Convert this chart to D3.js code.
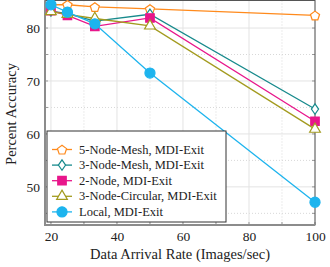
<!DOCTYPE html>
<html>
<head>
<meta charset="utf-8">
<script src="https://cdn.jsdelivr.net/npm/d3@7"></script>
<style>
  body { margin: 0; background: #fff; }
  text { font-family: "Liberation Serif", "DejaVu Serif", serif; fill: #222; }
</style>
</head>
<body>
<div id="chart"></div>
<script>
// data
var rates = [20, 25, 33.3, 50, 100];
var seriesNames = ["5-Node-Mesh, MDI-Exit", "3-Node-Mesh, MDI-Exit", "2-Node, MDI-Exit",
                   "3-Node-Circular, MDI-Exit", "Local, MDI-Exit"];
var mesh5 = [84.4, 84.4, 84.0, 83.6, 82.4];
var mesh3 = [83.2, 82.7, 81.3, 82.6, 64.7];
var node2 = [83.3, 82.4, 80.3, 81.9, 62.4];
var circ3 = [83.1, 82.6, 81.8, 80.4, 60.9];
var local = [84.4, 83.0, 80.8, 71.5, 47.1];
var xTicks = [20, 40, 60, 80, 100];
var yTicks = [50, 60, 70, 80];

var colors = ["#ff8a1c", "#178a8c", "#e8168b", "#a39b1f", "#1db4ee"];
var markers = ["pentagon", "diamond", "square", "triangle", "circle"];
var filled = [false, false, true, false, true];

var margin = {left:45, right:15, top:0.5, bottom:42},
    width = 330 - margin.left - margin.right,
    height = 267 - margin.top - margin.bottom;

var svg = d3.select("#chart").append("svg")
    .attr("width", 330)
    .attr("height", 267);

var g = svg.append("g")
    .attr("transform", "translate(" + margin.left + "," + margin.top + ")");

var x = d3.scaleLinear().domain([18.2, 100]).range([0, width]);
var y = d3.scaleLinear().domain([42.8, 85.2]).range([height, 0]);

// grid: dotted minor, light solid major
var minorX = [30, 50, 70, 90], minorY = [45, 55, 65, 75];
g.selectAll(".mx").data(minorX).enter().append("line")
    .attr("x1", x).attr("x2", x).attr("y1", 0).attr("y2", height)
    .style("stroke", "#d8d8d8").style("stroke-dasharray", "1,2");
g.selectAll(".my").data(minorY).enter().append("line")
    .attr("y1", y).attr("y2", y).attr("x1", 0).attr("x2", width)
    .style("stroke", "#d8d8d8").style("stroke-dasharray", "1,2");
g.selectAll(".gx").data(xTicks).enter().append("line")
    .attr("x1", x).attr("x2", x).attr("y1", 0).attr("y2", height)
    .style("stroke", "#e3e3e3");
g.selectAll(".gy").data(yTicks).enter().append("line")
    .attr("y1", y).attr("y2", y).attr("x1", 0).attr("x2", width)
    .style("stroke", "#e3e3e3");

// axes
var xAxis = g.append("g")
    .attr("transform", "translate(0," + height + ")")
    .call(d3.axisBottom(x).tickValues(xTicks).tickSize(0).tickPadding(6));
var yAxis = g.append("g")
    .call(d3.axisLeft(y).tickValues(yTicks).tickSize(0).tickPadding(5));
[xAxis, yAxis].forEach(function(a) {
    a.select(".domain").remove();
    a.selectAll("text").style("font-size", "13.5px")
        .style("font-family", "'Liberation Serif', serif").attr("fill", "#222");
});

// small tick marks inside the frame
g.selectAll(".tx").data(xTicks.concat(minorX)).enter().append("line")
    .attr("x1", x).attr("x2", x).attr("y1", height).attr("y2", height - 3)
    .style("stroke", "#999");
g.selectAll(".ty").data(yTicks.concat(minorY)).enter().append("line")
    .attr("y1", y).attr("y2", y).attr("x1", 0).attr("x2", 3)
    .style("stroke", "#999");
g.selectAll(".ty2").data(yTicks.concat(minorY)).enter().append("line")
    .attr("y1", y).attr("y2", y).attr("x1", width).attr("x2", width - 3)
    .style("stroke", "#999");

// frame
g.append("rect").attr("width", width).attr("height", height)
    .style("fill", "none").style("stroke", "#555").style("stroke-width", 1);
g.append("path")
    .attr("d", "M0,0V" + height + "H" + width)
    .style("fill", "none").style("stroke", "#8c8c8c").style("stroke-width", 2);

// marker symbols
function symbolFor(name) {
    if (name === "pentagon") {
        // regular pentagon, point up
        var r = 4.8, pts = [];
        for (var i = 0; i < 5; i++) {
            var a = -Math.PI / 2 + i * 2 * Math.PI / 5;
            pts.push([r * Math.cos(a), r * Math.sin(a) + 0.6]);
        }
        return "M" + pts.join("L") + "Z";
    }
    if (name === "diamond") {
        return "M0,-5.2L3.6,0L0,5.2L-3.6,0Z";
    }
    var t = { square: d3.symbolSquare, triangle: d3.symbolTriangle, circle: d3.symbolCircle }[name];
    var size = { square: 72, triangle: 50, circle: 80 }[name];
    return d3.symbol().type(t).size(size)();
}

var allSeries = [mesh5, mesh3, node2, circ3, local];

var line = d3.line()
    .x(function(d, i) { return x(rates[i]); })
    .y(function(d) { return y(d); });

allSeries.forEach(function(s, k) {
    g.append("path")
        .attr("d", line(s))
        .style("fill", "none")
        .style("stroke", colors[k])
        .style("stroke-width", 1.3);
    g.selectAll(".m" + k).data(s).enter().append("path")
        .attr("transform", function(d, i) { return "translate(" + x(rates[i]) + "," + y(d) + ")"; })
        .attr("d", symbolFor(markers[k]))
        .style("fill", filled[k] ? colors[k] : "#fff")
        .style("stroke", colors[k])
        .style("stroke-width", 1.2);
});

// legend
var leg = svg.append("g").attr("transform", "translate(47,131)");
leg.append("rect").attr("width", 179).attr("height", 91)
    .style("fill", "#fff").style("stroke", "#333").style("stroke-width", 1);
seriesNames.forEach(function(name, k) {
    var cy = 18.5 + k * 15.6;
    leg.append("line").attr("x1", 5).attr("x2", 25).attr("y1", cy).attr("y2", cy)
        .style("stroke", colors[k]).style("stroke-width", 1.3);
    leg.append("path").attr("transform", "translate(15," + cy + ")")
        .attr("d", symbolFor(markers[k]))
        .style("fill", filled[k] ? colors[k] : "#fff")
        .style("stroke", colors[k]).style("stroke-width", 1.2);
    leg.append("text").attr("x", 32).attr("y", cy + 4)
        .style("font-size", "12.5px").text(name);
});

// axis labels
svg.append("text")
    .attr("x", margin.left + width / 2).attr("y", 259)
    .attr("text-anchor", "middle").style("font-size", "14.5px")
    .text("Data Arrival Rate (Images/sec)");
svg.append("text")
    .attr("transform", "translate(16,114) rotate(-90)")
    .attr("text-anchor", "middle").style("font-size", "14.5px")
    .text("Percent Accuracy");
</script>
</body>
</html>
